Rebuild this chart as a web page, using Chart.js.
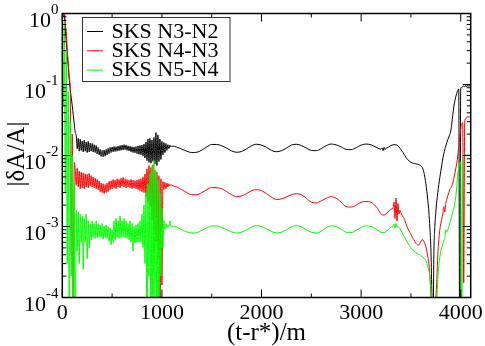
<!DOCTYPE html>
<html>
<head>
<meta charset="utf-8">
<script src="https://cdn.jsdelivr.net/npm/chart.js@4"></script>
<style>
  html, body { margin: 0; padding: 0; background: #fff; }
  canvas { display: block; }
</style>
</head>
<body>
<canvas id="chart" width="485" height="346"></canvas>
<script>
'use strict';

// sample times (t-r*)/m
const tEarly = [0, 10, 20, 30, 40, 50, 60, 70, 80, 90, 100, 110, 120, 130,
  140, 150, 160, 170, 180, 190, 200, 210, 220, 230,
  240, 250, 260, 270, 280, 290, 300, 310, 320, 330,
  340, 350, 360, 370, 380, 390, 400, 410, 420, 430,
  440, 450, 460, 470, 480, 490, 500, 510, 520, 530,
  540, 550, 560, 570, 580, 590, 600, 610, 620, 630,
  640, 650, 660, 670, 680, 690, 700, 710, 720, 730,
  740, 750, 760, 770, 780, 790, 800, 810, 820, 830,
  840, 850, 860, 870, 880, 890, 900, 910, 920, 930,
  940, 950, 960, 970, 980, 990, 1000, 1010, 1020, 1030,
  1040, 1050, 1060, 1070, 1080, 1090, 1100];
const tMid = [1150, 1200, 1250, 1300, 1350, 1400, 1450, 1500, 1550, 1600,
  1650, 1700, 1750, 1800, 1850, 1900, 1950, 2000, 2050, 2100,
  2150, 2200, 2250, 2300, 2350, 2400, 2450, 2500, 2550, 2600,
  2650, 2700, 2750, 2800, 2850, 2900, 2950, 3000, 3050, 3100,
  3150];
const tLate = [3160, 3170, 3180, 3190, 3200, 3210, 3220, 3230, 3240, 3250,
  3260, 3270, 3280, 3290, 3300, 3310, 3320, 3330, 3340, 3350,
  3360, 3370, 3380, 3390, 3400, 3410, 3420, 3430, 3440, 3450,
  3460, 3470, 3480, 3490, 3500, 3510, 3520, 3530, 3540, 3550,
  3560, 3570, 3580, 3590, 3600, 3610, 3620, 3630, 3640, 3650,
  3660, 3670, 3680, 3690, 3700, 3710, 3720, 3730, 3740, 3750,
  3760, 3770, 3780, 3790, 3800, 3810, 3820, 3830, 3840, 3850,
  3860, 3870, 3880, 3890, 3900, 3910, 3920, 3930, 3940, 3950,
  3960, 3970, 3980, 3990, 4000, 4010, 4020, 4030, 4040, 4050,
  4060, 4070, 4080, 4090, 4100];

// SKS N3-N2
const n3n2Early = [1.2, 1.1, 0.95, 0.6, 0.4, 0.26, 0.18, 0.12, 0.085, 0.065, 0.05, 0.037, 0.028, 0.021,
  0.019, 0.0125, 0.0175, 0.0115, 0.017, 0.0118, 0.016, 0.0112, 0.0165, 0.0115,
  0.0155, 0.011, 0.0158, 0.0112, 0.015, 0.0115, 0.0148, 0.0112, 0.0142, 0.011,
  0.0138, 0.0105, 0.013, 0.0102, 0.0122, 0.0097, 0.0118, 0.0096, 0.0119, 0.0098,
  0.0122, 0.0102, 0.0126, 0.0106, 0.013, 0.011, 0.0132, 0.0113, 0.0134, 0.0114,
  0.0133, 0.0115, 0.0136, 0.0117, 0.0138, 0.0118, 0.014, 0.012, 0.0142, 0.0121,
  0.014, 0.0118, 0.0137, 0.0116, 0.0135, 0.0113, 0.0133, 0.011, 0.0132, 0.0109,
  0.0134, 0.0106, 0.0136, 0.0104, 0.0138, 0.0102, 0.014, 0.0098, 0.0145, 0.0092,
  0.0155, 0.0085, 0.017, 0.008, 0.0175, 0.0078, 0.0165, 0.0083, 0.018, 0.0076,
  0.021, 0.0072, 0.0195, 0.0082, 0.017, 0.0088, 0.0158, 0.0102, 0.0152, 0.011,
  0.0148, 0.0118, 0.0142, 0.0125, 0.014, 0.0132, 0.0136];
const n3n2Mid = [0.0131, 0.0123, 0.0115, 0.0110, 0.0111, 0.0119, 0.0132, 0.0143, 0.0143, 0.0137,
  0.0127, 0.0116, 0.0111, 0.0114, 0.0124, 0.0137, 0.0144, 0.0140, 0.0130, 0.0118,
  0.0113, 0.0117, 0.0127, 0.0140, 0.0144, 0.0138, 0.0127, 0.0118, 0.0117, 0.0125,
  0.0138, 0.0145, 0.0141, 0.0132, 0.0122, 0.0121, 0.0129, 0.0140, 0.0145, 0.0141,
  0.0131];
const n3n2Late = [0.0129, 0.0127, 0.0125, 0.0124, 0.0123, 0.0128, 0.0117, 0.013, 0.0121, 0.0127,
  0.0128, 0.013, 0.0133, 0.0136, 0.0138, 0.014, 0.0141, 0.0142, 0.0142, 0.0141,
  0.014, 0.0137, 0.0132, 0.0127, 0.0121, 0.0115, 0.011, 0.0104, 0.0099, 0.0094,
  0.009, 0.0087, 0.0084, 0.0082, 0.008, 0.0079, 0.0078, 0.0077, 0.0077, 0.0076,
  0.0076, 0.0075, 0.0074, 0.0073, 0.0071, 0.0069, 0.0065, 0.0058, 0.0049, 0.004,
  0.0031, 0.0023, 0.0016, 0.00095, 0.0005, 0.00012, 0.00002, 0.0004, 0.001, 0.0016,
  0.0023, 0.003, 0.0039, 0.0049, 0.006, 0.0074, 0.009, 0.0106, 0.0122, 0.0136,
  0.0152, 0.0168, 0.0182, 0.0198, 0.0222, 0.028, 0.037, 0.048, 0.058, 0.067,
  0.075, 0.083, 0.086, 0.00001, 0.089, 0.091, 0.093, 0.096, 0.092, 0.097,
  0.093, 0.098, 0.094, 0.099, 0.1];

// SKS N4-N3
const n4n3Early = [1.3, 0.9, 1.2, 0.7, 0.55, 0.3, 0.2, 0.12, 0.08, 0.0004, 0.02, 0.00001, 0.008, 0.0062,
  0.0038, 0.0066, 0.0036, 0.006, 0.0034, 0.0058, 0.0035, 0.0057, 0.0034, 0.0055,
  0.0036, 0.0054, 0.0035, 0.0056, 0.0037, 0.0052, 0.0036, 0.005, 0.0035, 0.0048,
  0.0034, 0.0046, 0.0033, 0.0044, 0.0031, 0.0041, 0.003, 0.004, 0.0029, 0.0039,
  0.003, 0.0041, 0.0031, 0.0043, 0.0033, 0.0044, 0.0034, 0.0046, 0.0035, 0.0045,
  0.0034, 0.0047, 0.0036, 0.0046, 0.0035, 0.0048, 0.0037, 0.0049, 0.0036, 0.0047,
  0.0035, 0.0046, 0.0036, 0.0045, 0.0035, 0.0046, 0.0034, 0.0045, 0.0035, 0.0044,
  0.0034, 0.0045, 0.0033, 0.0046, 0.0032, 0.0047, 0.0031, 0.005, 0.003, 0.0055,
  0.0026, 0.0065, 0.0022, 0.0072, 0.0019, 0.0068, 0.0012, 0.0074, 0.0009, 0.0062,
  0.0006, 0.0058, 0.00035, 0.0052, 0.00001, 0.0047, 0.00015, 0.0043, 0.0033, 0.0042,
  0.0034, 0.0041, 0.0036, 0.004, 0.0037, 0.0039, 0.0038];
const n4n3Mid = [0.0036, 0.0033, 0.003, 0.0028, 0.0028, 0.003, 0.0033, 0.00354, 0.00352, 0.0034,
  0.0031, 0.0028, 0.00263, 0.0027, 0.0029, 0.0032, 0.0033, 0.0032, 0.0029, 0.0026,
  0.0024, 0.00245, 0.0026, 0.0028, 0.0029, 0.0028, 0.0025, 0.0022, 0.00215, 0.0023,
  0.0025, 0.00263, 0.0025, 0.0022, 0.0019, 0.00188, 0.002, 0.0022, 0.00225, 0.0022,
  0.0019];
const n4n3Late = [0.00185, 0.00175, 0.00165, 0.00157, 0.0015, 0.00147, 0.00145, 0.00145, 0.00147, 0.0015,
  0.00155, 0.0016, 0.00166, 0.00171, 0.00175, 0.00178, 0.0018, 0.0022, 0.0013, 0.0025,
  0.0012, 0.0021, 0.0015, 0.0017, 0.00155, 0.00145, 0.00137, 0.0013, 0.0012, 0.0011,
  0.001, 0.00093, 0.00087, 0.00082, 0.00078, 0.00072, 0.00068, 0.00065, 0.00061, 0.00058,
  0.00056, 0.00055, 0.00055, 0.00058, 0.00062, 0.00065, 0.00065, 0.00062, 0.00057, 0.00052,
  0.00045, 0.00037, 0.0003, 0.0002, 0.00011, 0.00004, 0.00001, 0.00001, 0.00003, 0.00009,
  0.00018, 0.0004, 0.00065, 0.0009, 0.0011, 0.0013, 0.0015, 0.0019, 0.0016, 0.0021,
  0.0024, 0.0027, 0.003, 0.0033, 0.0035, 0.0037, 0.0041, 0.0047, 0.0055, 0.0065,
  0.0078, 0.0098, 0.0134, 0.018, 0.024, 0.028, 0.029, 0.00016, 0.031, 0.033,
  0.035, 0.035, 0.035, 0.035, 0.035];

// SKS N5-N4
const n5n4Early = [1.3, 0.05, 0.8, 0.003, 0.3, 0.0003, 0.08, 0.00001, 0.03, 0.0002, 0.01, 0.00001, 0.004, 0.00001,
  0.0017, 0.00045, 0.0016, 0.0003, 0.0015, 0.0006, 0.0014, 0.00025, 0.0013, 0.0006,
  0.0015, 0.00035, 0.0012, 0.0005, 0.0011, 0.00065, 0.0012, 0.0007, 0.0011, 0.00068,
  0.0012, 0.0007, 0.0011, 0.00072, 0.00105, 0.0007, 0.0011, 0.00066, 0.001, 0.0007,
  0.00105, 0.00068, 0.001, 0.00062, 0.00095, 0.00055, 0.0009, 0.0006, 0.0012, 0.00065,
  0.0013, 0.0007, 0.0012, 0.00068, 0.0014, 0.0007, 0.0012, 0.00072, 0.0013, 0.0007,
  0.0012, 0.00068, 0.0011, 0.00065, 0.0012, 0.0006, 0.0011, 0.00045, 0.001, 0.00058,
  0.00105, 0.0006, 0.0011, 0.0006, 0.0012, 0.0006, 0.0015, 0.0005, 0.002, 0.0003,
  0.003, 0.00001, 0.004, 0.0002, 0.0055, 0.00001, 0.007, 0.00001, 0.0085, 0.0001,
  0.006, 0.00001, 0.0045, 0.00001, 0.003, 0.0002, 0.0018, 0.0005, 0.0012, 0.0009,
  0.0011, 0.00095, 0.00105, 0.001, 0.0012, 0.001, 0.00102];
const n5n4Mid = [0.00098, 0.0009, 0.00084, 0.00081, 0.00082, 0.00088, 0.00096, 0.00102, 0.00102, 0.00097,
  0.0009, 0.00084, 0.00081, 0.00083, 0.0009, 0.00098, 0.00103, 0.001, 0.00093, 0.00085,
  0.00081, 0.00083, 0.0009, 0.00099, 0.00103, 0.00099, 0.0009, 0.00083, 0.00081, 0.00086,
  0.00096, 0.00102, 0.001, 0.00091, 0.00083, 0.00082, 0.00088, 0.00097, 0.00102, 0.001,
  0.00092];
const n5n4Late = [0.0009, 0.00088, 0.00086, 0.00084, 0.00083, 0.00082, 0.00082, 0.00082, 0.00083, 0.00085,
  0.00087, 0.0009, 0.00093, 0.00096, 0.00098, 0.001, 0.00101, 0.00108, 0.00096, 0.0011,
  0.00098, 0.001, 0.00097, 0.00093, 0.00088, 0.00083, 0.00078, 0.00073, 0.00069, 0.00065,
  0.00061, 0.00058, 0.00055, 0.00052, 0.0005, 0.00048, 0.00046, 0.00045, 0.00044, 0.00043,
  0.00042, 0.00041, 0.0004, 0.0004, 0.00039, 0.00038, 0.00037, 0.00036, 0.00035, 0.00033,
  0.0003, 0.00027, 0.00024, 0.0002, 0.00014, 0.00008, 0.00003, 0.00001, 0.00001, 0.00004,
  0.00009, 0.00018, 0.00028, 0.00037, 0.00045, 0.00051, 0.00057, 0.00063, 0.0007, 0.0009,
  0.00083, 0.0009, 0.001, 0.00112, 0.00125, 0.0014, 0.0016, 0.0018, 0.0021, 0.0026,
  0.0037, 0.0055, 0.0068, 0.0078, 0.0081, 0.00001, 0.0096, 0.01, 0.0102, 0.0102,
  0.0102, 0.0102, 0.0102, 0.0102, 0.0102];

const seriesLabels = ['SKS N3-N2', 'SKS N4-N3', 'SKS N5-N4'];
const seriesColors = ['#000000', '#ff0000', '#00ff00'];

const xMajorTicks = [0, 1000, 2000, 3000, 4000];
const xMinorTicks = [500, 1500, 2500, 3500];
const yMajorTicks = [1e-4, 1e-3, 1e-2, 1e-1, 1];
const yTickExponents = ['-4', '-3', '-2', '-1', '0'];

const serif = '"Liberation Serif", "Times New Roman", serif';

const tAll = tEarly.concat(tMid, tLate);
function toPoints(vals) {
  return tAll.map((t, i) => ({ x: t, y: vals[i] }));
}

// frame, tick marks, labels and the boxed legend, grace style
const gracePlot = {
  id: 'gracePlot',
  afterDraw(chart) {
    const ctx = chart.ctx;
    const a = chart.chartArea;
    const xs = chart.scales.x;
    const ys = chart.scales.y;
    ctx.save();

    ctx.strokeStyle = '#000';
    ctx.lineWidth = 1;
    function tick(x1, y1, x2, y2) {
      ctx.beginPath();
      ctx.moveTo(x1, y1);
      ctx.lineTo(x2, y2);
      ctx.stroke();
    }
    xMajorTicks.forEach(v => {
      const px = xs.getPixelForValue(v);
      tick(px, a.bottom, px, a.bottom - 8);
      tick(px, a.top, px, a.top + 8);
    });
    xMinorTicks.forEach(v => {
      const px = xs.getPixelForValue(v);
      tick(px, a.bottom, px, a.bottom - 4);
      tick(px, a.top, px, a.top + 4);
    });
    yMajorTicks.forEach((v, i) => {
      const py = ys.getPixelForValue(v);
      tick(a.left, py, a.left + 8, py);
      tick(a.right, py, a.right - 8, py);
      if (i < yMajorTicks.length - 1) {
        for (let m = 2; m <= 9; m++) {
          const pm = ys.getPixelForValue(v * m);
          tick(a.left, pm, a.left + 4, pm);
          tick(a.right, pm, a.right - 4, pm);
        }
      }
    });

    ctx.lineWidth = 1.5;
    ctx.strokeRect(a.left, a.top, a.right - a.left, a.bottom - a.top);

    ctx.fillStyle = '#000';
    ctx.textBaseline = 'alphabetic';

    // x tick labels
    ctx.font = '22px ' + serif;
    ctx.textAlign = 'center';
    xMajorTicks.forEach(v => {
      ctx.fillText(String(v), xs.getPixelForValue(v), 319);
    });

    // y tick labels: 10 with superscript exponent
    yMajorTicks.forEach((v, i) => {
      const py = ys.getPixelForValue(v);
      ctx.font = '15px ' + serif;
      ctx.textAlign = 'right';
      const expW = ctx.measureText(yTickExponents[i]).width;
      ctx.fillText(yTickExponents[i], 58.5, py + 0.5);
      ctx.font = '22px ' + serif;
      ctx.fillText('10', 58.5 - expW, py + 13.5);
    });

    // axis titles
    ctx.font = '25px ' + serif;
    ctx.textAlign = 'center';
    ctx.fillText('(t-r*)/m', (a.left + a.right) / 2, 340);
    ctx.save();
    ctx.translate(24, 154);
    ctx.rotate(-Math.PI / 2);
    ctx.fillText('|\u03b4A/A|', 0, 0);
    ctx.restore();

    // legend
    ctx.fillStyle = '#fff';
    ctx.fillRect(82.5, 17.5, 147.5, 64);
    ctx.strokeStyle = '#333';
    ctx.lineWidth = 1;
    ctx.strokeRect(82.5, 17.5, 147.5, 64);
    ctx.font = '22px ' + serif;
    ctx.textAlign = 'left';
    chart.data.datasets.forEach((ds, i) => {
      const ly = 31.5 + i * 19.3;
      ctx.strokeStyle = ds.borderColor;
      tick(87, ly, 103, ly);
      ctx.fillStyle = '#000';
      ctx.fillText(ds.label, 111.5, ly + 6);
    });

    ctx.restore();
  }
};

const n3n2 = n3n2Early.concat(n3n2Mid, n3n2Late);
const n4n3 = n4n3Early.concat(n4n3Mid, n4n3Late);
const n5n4 = n5n4Early.concat(n5n4Mid, n5n4Late);

const dataObject = {
  datasets: [
    { label: seriesLabels[0], data: toPoints(n3n2), borderColor: seriesColors[0], order: 3 },
    { label: seriesLabels[1], data: toPoints(n4n3), borderColor: seriesColors[1], order: 2 },
    { label: seriesLabels[2], data: toPoints(n5n4), borderColor: seriesColors[2], order: 1 }
  ]
};

const config = {
  type: 'line',
  data: dataObject,
  options: {
    responsive: false,
    animation: false,
    devicePixelRatio: 1,
    layout: { padding: { top: 13.5, right: 14.3, left: 0, bottom: 0 } },
    elements: {
      point: { radius: 0 },
      line: { borderWidth: 1, cubicInterpolationMode: 'monotone', fill: false }
    },
    datasets: { line: { clip: 0 } },
    plugins: {
      legend: { display: false },
      tooltip: { enabled: false }
    },
    scales: {
      x: {
        type: 'linear',
        min: 0,
        max: 4100,
        ticks: { display: false },
        grid: { display: false },
        border: { display: false },
        afterFit(s) { s.height = 48.5; }
      },
      y: {
        type: 'logarithmic',
        min: 1e-4,
        max: 1,
        ticks: { display: false },
        grid: { display: false },
        border: { display: false },
        afterFit(s) { s.width = 62.3; }
      }
    }
  },
  plugins: [gracePlot]
};

new Chart(document.getElementById('chart'), config);
</script>
</body>
</html>
